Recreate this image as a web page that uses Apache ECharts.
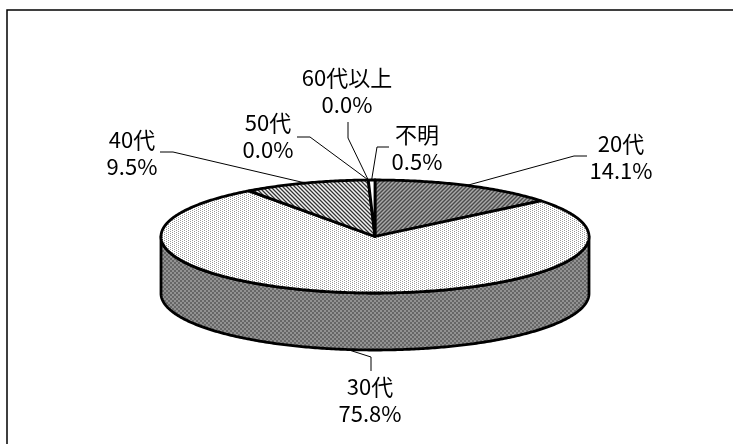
<!DOCTYPE html>
<html lang="ja">
<head>
<meta charset="utf-8">
<title>年代別構成比</title>
<script src="https://cdn.jsdelivr.net/npm/echarts@6/dist/echarts.min.js"></script>
<style>
html,body{margin:0;padding:0;background:#fff}
#chart{width:733px;height:444px}
</style>
</head>
<body>
<div id="chart"></div>
<script>
// Age-group shares, clockwise from twelve o'clock
const categories = ['20代', '30代', '40代', '50代', '60代以上', '不明'];
const shares = [14.1, 75.8, 9.5, 0.0, 0.0, 0.5];
const valueLabels = ['14.1%', '75.8%', '9.5%', '0.0%', '0.0%', '0.5%'];

// Tilted disc geometry
const disc = { cx: 375, cy: 236.5, rx: 214, ry: 56.5, depth: 57 };

// Text centres and leader elbows
const labelAt = [[621, 157], [370, 400], [132, 153], [268, 136], [347, 91], [417, 148]];
const elbows = [
  [[574, 156], [587, 156]],
  [[371, 357], [371, 371]],
  [[173, 152], [160, 152]],
  [[310, 137], [297, 137]],
  [[348, 138], [348, 122]],
  [[377, 147], [389, 147]]
];

function tile(rows, colors) {
  const c = document.createElement('canvas');
  c.height = rows.length;
  c.width = rows[0].length;
  const g = c.getContext('2d');
  rows.forEach((row, y) => {
    [...row].forEach((ch, x) => {
      g.fillStyle = colors[ch];
      g.fillRect(x, y, 1, 1);
    });
  });
  return { image: c, repeat: 'repeat' };
}

const hatchDark = tile(['abcb', 'bcba', 'cbab', 'babc'], { a: '#4a4a4a', b: '#7a7a7a', c: '#a8a8a8' });
const dotsLight = tile(['abbb', 'bbab'], { a: '#999999', b: '#ffffff' });
const hatchMid = tile(['abcb', 'babc', 'cbab', 'bcba'], { a: '#333333', b: '#a0a0a0', c: '#f4f4f4' });
const wallCheck = tile(['aabb', 'aabb', 'bbaa', 'bbaa'], { a: '#666666', b: '#929292' });
const fills = [hatchDark, dotsLight, hatchMid, '#ffffff', '#ffffff', '#ffffff'];

const total = shares.reduce((a, b) => a + b, 0);
const starts = [];
shares.reduce((acc, v, i) => { starts[i] = acc; return acc + v; }, 0);
const angleOf = v => (v / total) * 2 * Math.PI;
const rim = (a, drop = 0) => [
  disc.cx + disc.rx * Math.sin(a),
  disc.cy - disc.ry * Math.cos(a) + drop
];

function arc(a0, a1, drop) {
  const n = Math.max(2, Math.ceil((a1 - a0) * 90));
  const pts = [];
  for (let i = 0; i <= n; i++) pts.push(rim(a0 + (a1 - a0) * i / n, drop));
  return pts;
}

const ink = { stroke: '#000', lineWidth: 2.8, lineJoin: 'round' };

function renderSlice(params) {
  const i = params.dataIndex;
  const a0 = angleOf(starts[i]);
  const a1 = a0 + angleOf(shares[i]);
  const mid = (a0 + a1) / 2;
  const children = [];

  // Outer wall: only the part of the slice facing the viewer
  const w0 = Math.max(a0, Math.PI / 2);
  const w1 = Math.min(a1, Math.PI * 1.5);
  if (w1 > w0) {
    children.push({
      type: 'polygon',
      shape: { points: arc(w0, w1, 0).concat(arc(w0, w1, disc.depth).reverse()) },
      style: { fill: wallCheck, ...ink }
    });
  }
  // Top face
  if (shares[i] > 0) {
    children.push({
      type: 'polygon',
      shape: { points: [[disc.cx, disc.cy]].concat(arc(a0, a1, 0)) },
      style: { fill: fills[i], ...ink }
    });
  }
  // Leader from the rim to the label
  const facesFront = mid > Math.PI / 2 && mid < Math.PI * 1.5;
  children.push({
    type: 'polyline',
    z2: 5,
    shape: { points: [rim(mid, facesFront ? disc.depth : 0)].concat(elbows[i]) },
    style: { stroke: '#000', lineWidth: 1, fill: null }
  });
  children.push({
    type: 'text',
    z2: 6,
    style: {
      text: categories[i] + '\n' + valueLabels[i],
      x: labelAt[i][0],
      y: labelAt[i][1],
      align: 'center',
      verticalAlign: 'middle',
      lineHeight: 27,
      font: '22px "Noto Sans CJK JP", sans-serif',
      fill: '#000'
    }
  });
  return { type: 'group', children };
}

const chart = echarts.init(document.getElementById('chart'), null, { renderer: 'canvas' });
chart.setOption({
  animation: false,
  backgroundColor: '#fff',
  graphic: [{
    type: 'polyline',
    shape: { points: [[733, 10], [7, 10], [7, 444]] },
    style: { stroke: '#000', lineWidth: 1.5, fill: null }
  }],
  series: [{
    type: 'custom',
    coordinateSystem: 'none',
    renderItem: renderSlice,
    data: shares
  }]
});
</script>
</body>
</html>
